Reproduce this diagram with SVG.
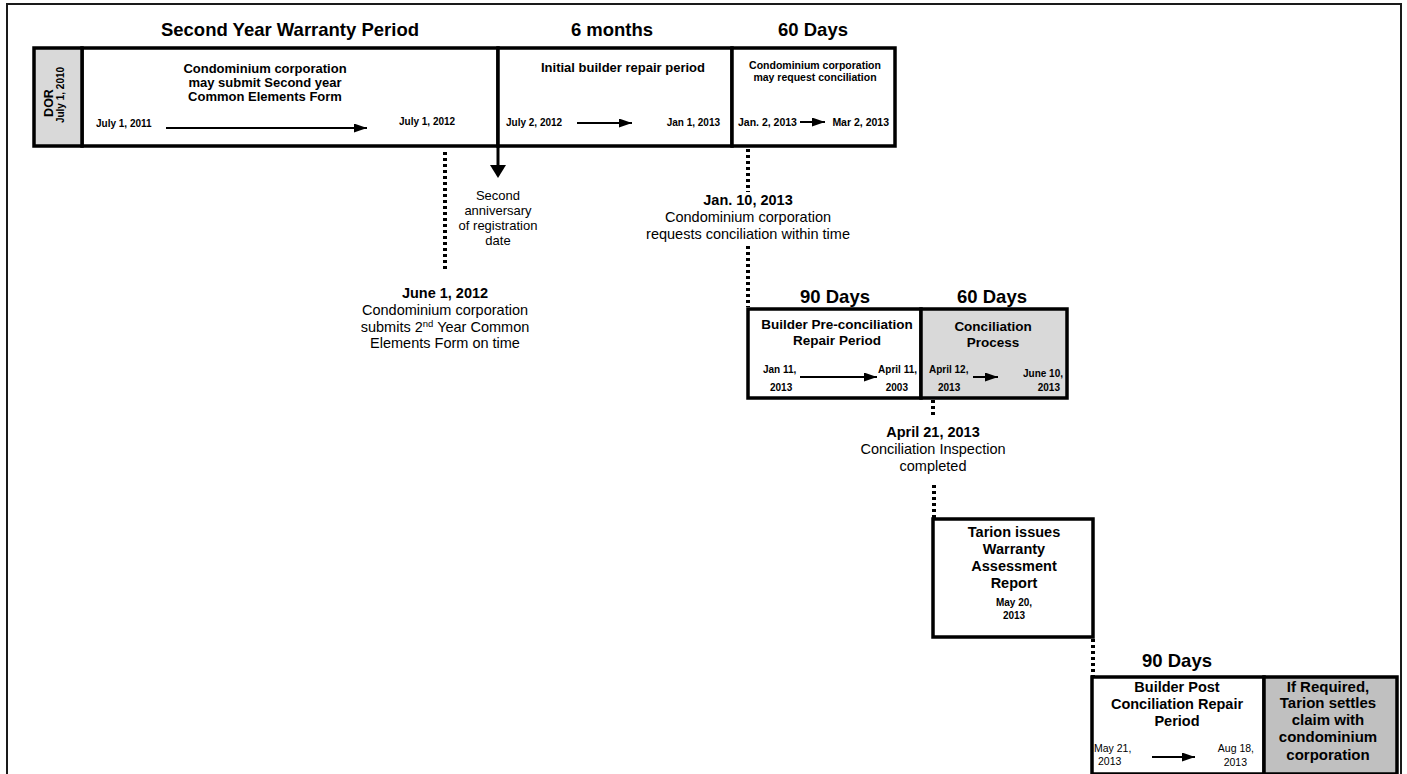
<svg xmlns="http://www.w3.org/2000/svg" width="1407" height="774" viewBox="0 0 1407 774">
<defs>
<style>
text{font-family:"Liberation Sans",Arial,sans-serif;fill:#000}
.h{font-size:18.5px;font-weight:bold;text-anchor:middle}
.b13{font-size:13px;font-weight:bold;text-anchor:middle}
.b135{font-size:13.5px;font-weight:bold;text-anchor:middle}
.b145{font-size:14.5px;font-weight:bold;text-anchor:middle}
.b15{font-size:15px;font-weight:bold;text-anchor:middle}
.b105{font-size:10.5px;font-weight:bold;text-anchor:middle}
.d{font-size:10px;font-weight:bold}
.d105{font-size:10.5px;font-weight:bold}
.dr{font-size:10.5px}
.r13{font-size:13px;text-anchor:middle}
.r145{font-size:14.5px;text-anchor:middle}
.bx{fill:#fff;stroke:#000;stroke-width:3.5}
.gr{fill:#d9d9d9;stroke:#000;stroke-width:3.5}
.gr2{fill:#c0c0c0;stroke:#000;stroke-width:3.5}
.dot{stroke:#000;stroke-width:4;stroke-dasharray:3 3;fill:none}
.arr{stroke:#000;stroke-width:2;fill:none;marker-end:url(#ah)}
.end{text-anchor:end}
</style>
<marker id="ah" markerUnits="userSpaceOnUse" markerWidth="14" markerHeight="9" refX="13" refY="4.5" orient="auto">
<path d="M0,0 L13,4.5 L0,9 z" fill="#000"/>
</marker>
</defs>
<rect x="0" y="0" width="1407" height="774" fill="#fff"/>
<rect id="frame" x="7" y="4" width="1394" height="800" fill="none" stroke="#1a1a1a" stroke-width="2"/>

<g id="titles">
<text class="h" x="290" y="36">Second Year Warranty Period</text>
<text class="h" x="612" y="36">6 months</text>
<text class="h" x="813" y="36">60 Days</text>
<text class="h" x="835" y="303">90 Days</text>
<text class="h" x="992" y="303">60 Days</text>
<text class="h" x="1177" y="667">90 Days</text>
</g>

<g id="second-year">
<rect class="bx" x="82" y="48" width="416" height="98"/>
<text class="b13" x="265" y="73">Condominium corporation</text>
<text class="b13" x="265" y="87">may submit Second year</text>
<text class="b13" x="265" y="101">Common Elements Form</text>
<text class="d" x="96" y="127">July 1, 2011</text>
<text class="d" x="399" y="125">July 1, 2012</text>
</g>

<g id="dor">
<rect class="gr" x="34" y="48" width="48" height="98"/>
<text transform="translate(53,103) rotate(-90)" style="font-size:12.5px;font-weight:bold;text-anchor:middle">DOR</text>
<text transform="translate(64,95) rotate(-90)" style="font-size:10px;font-weight:bold;text-anchor:middle">July 1, 2010</text>
</g>

<g id="six-months">
<rect class="bx" x="498" y="48" width="234" height="98"/>
<text class="b13" x="623" y="72">Initial builder repair period</text>
<text class="d" x="506" y="126">July 2, 2012</text>
<text class="d end" x="720" y="126">Jan 1, 2013</text>
</g>

<g id="request-conciliation">
<rect class="bx" x="732" y="48" width="163" height="98"/>
<text class="b105" x="815" y="69">Condominium corporation</text>
<text class="b105" x="815" y="81">may request conciliation</text>
<text class="d105" x="738" y="126">Jan. 2, 2013</text>
<text class="d105 end" x="889" y="126">Mar 2, 2013</text>
</g>

<g id="second-anniversary">
<text class="r13" x="498" y="200">Second</text>
<text class="r13" x="498" y="215">anniversary</text>
<text class="r13" x="498" y="230">of registration</text>
<text class="r13" x="498" y="245">date</text>
</g>

<g id="june-2012">
<text class="b145" x="445" y="298">June 1, 2012</text>
<text class="r145" x="445" y="315">Condominium corporation</text>
<text class="r145" x="445" y="332">submits 2<tspan font-size="9.5" dy="-5">nd</tspan><tspan dy="5"> Year Common</tspan></text>
<text class="r145" x="445" y="348">Elements Form on time</text>
</g>

<g id="jan-2013">
<text class="b145" x="748" y="205">Jan. 10, 2013</text>
<text class="r145" x="748" y="222">Condominium corporation</text>
<text class="r145" x="748" y="239">requests conciliation within time</text>
</g>

<g id="pre-conciliation">
<rect class="bx" x="748" y="309" width="173" height="89"/>
<text class="b135" x="837" y="329">Builder Pre-conciliation</text>
<text class="b135" x="837" y="345">Repair Period</text>
<text class="d" x="763" y="373">Jan 11,</text>
<text class="d" x="770" y="391">2013</text>
<text class="d end" x="917" y="373">April 11,</text>
<text class="d end" x="908" y="391">2003</text>
</g>

<g id="conciliation">
<rect class="gr" x="921" y="309" width="146" height="89"/>
<text class="b135" x="993" y="331">Conciliation</text>
<text class="b135" x="993" y="347">Process</text>
<text class="d" x="929" y="373">April 12,</text>
<text class="d" x="938" y="391">2013</text>
<text class="d end" x="1063" y="377">June 10,</text>
<text class="d end" x="1060" y="391">2013</text>
</g>

<g id="april-2013">
<text class="b145" x="933" y="437">April 21, 2013</text>
<text class="r145" x="933" y="454">Conciliation Inspection</text>
<text class="r145" x="933" y="471">completed</text>
</g>

<g id="assessment-report">
<rect class="bx" x="933" y="519" width="160" height="118"/>
<text class="b145" x="1014" y="537">Tarion issues</text>
<text class="b145" x="1014" y="554">Warranty</text>
<text class="b145" x="1014" y="571">Assessment</text>
<text class="b145" x="1014" y="588">Report</text>
<text class="d" x="1014" y="606" text-anchor="middle">May 20,</text>
<text class="d" x="1014" y="619" text-anchor="middle">2013</text>
</g>

<g id="post-conciliation">
<rect class="bx" x="1092" y="677" width="172" height="97"/>
<text class="b145" x="1177" y="692">Builder Post</text>
<text class="b145" x="1177" y="709">Conciliation Repair</text>
<text class="b145" x="1177" y="726">Period</text>
<text class="dr" x="1094" y="752">May 21,</text>
<text class="dr" x="1098" y="765">2013</text>
<text class="dr end" x="1254" y="752">Aug 18,</text>
<text class="dr end" x="1247" y="766">2013</text>
</g>

<g id="tarion-settles">
<rect class="gr2" x="1264" y="677" width="133" height="97"/>
<text class="b15" x="1328" y="692">If Required,</text>
<text class="b15" x="1328" y="708">Tarion settles</text>
<text class="b15" x="1328" y="725">claim with</text>
<text class="b15" x="1328" y="742">condominium</text>
<text class="b15" x="1328" y="760">corporation</text>
</g>

<g id="connectors">
<line class="arr" x1="166" y1="128" x2="367" y2="128"/>
<line class="arr" x1="577" y1="123" x2="632" y2="123"/>
<line class="arr" x1="800" y1="122" x2="825" y2="122"/>
<line class="arr" x1="800" y1="377" x2="877" y2="377"/>
<line class="arr" x1="973" y1="377" x2="998" y2="377"/>
<line class="arr" x1="1152" y1="757" x2="1195" y2="757"/>
<line x1="498" y1="146" x2="498" y2="166" stroke="#000" stroke-width="3"/>
<path d="M490,165 L506,165 L498,178 z" fill="#000"/>
<line class="dot" x1="445" y1="152" x2="445" y2="270"/>
<line class="dot" x1="748" y1="149" x2="748" y2="192"/>
<line class="dot" x1="748" y1="246" x2="748" y2="307"/>
<line class="dot" x1="933" y1="400" x2="933" y2="418"/>
<line class="dot" x1="934" y1="485" x2="934" y2="518"/>
<line class="dot" x1="1093" y1="639" x2="1093" y2="676"/>
</g>
</svg>
